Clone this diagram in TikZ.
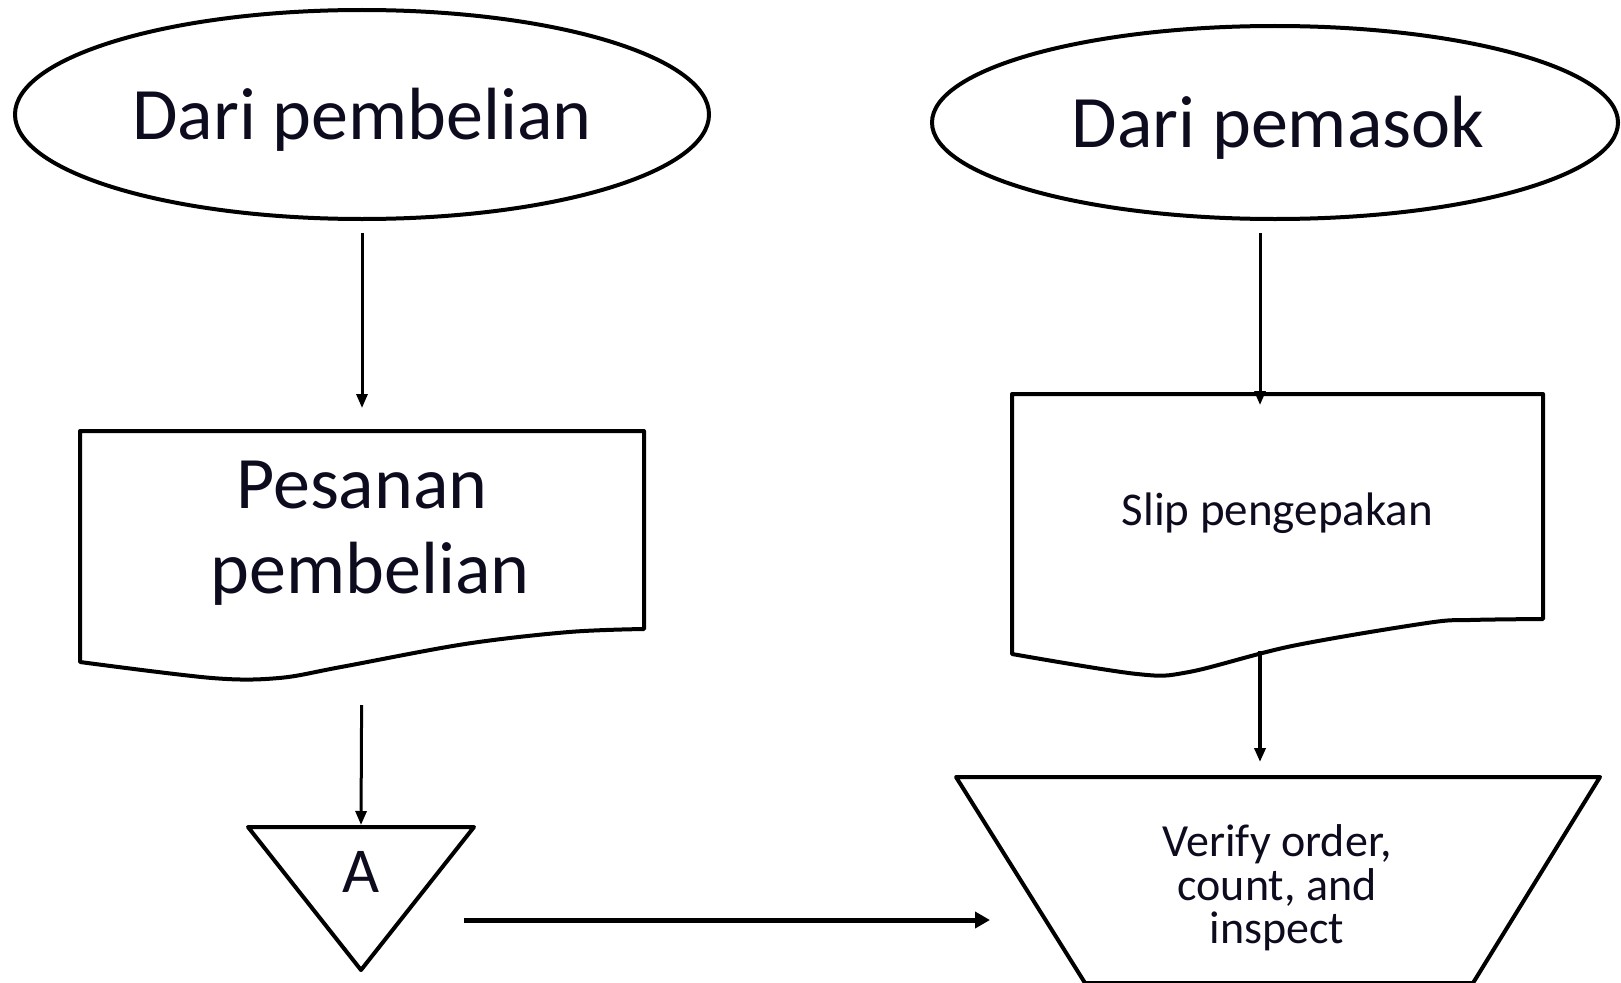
\documentclass[tikz,border=0pt]{standalone}
\usepackage{fontspec}
\setmainfont{Carlito}
\usetikzlibrary{shapes.geometric,arrows.meta,calc}
\definecolor{ink}{RGB}{12,12,30}
\begin{document}
\begin{tikzpicture}[x=1pt,y=-1pt,
  outline/.style={draw=black, line width=4pt, line join=round},
  conn/.style={draw=black, line width=3pt, -{Triangle[length=14pt,width=11pt]}},
  thickconn/.style={draw=black, line width=5pt, -{Triangle[length=15pt,width=16pt]}},
  big/.style={font=\fontsize{74}{85}\selectfont, text=ink, align=center},
  mid/.style={font=\fontsize{47}{42}\selectfont, text=ink, align=center},
  frame/.style={draw=none, inner sep=0pt, outer sep=0pt, rectangle}
]
\useasboundingbox (0,0) rectangle (1621,982);

% ellipses
\node[outline, ellipse, minimum width=694pt, minimum height=209pt, inner sep=0pt] (e1) at (362,114.5) {};
\node[big] (t1) at ([yshift=-5pt]e1.center) {Dari pembelian};
\node[outline, ellipse, minimum width=686pt, minimum height=193pt, inner sep=0pt] (e2) at (1275,122.5) {};
\node[big] (t2) at ([xshift=3pt,yshift=-5pt]e2.center) {Dari pemasok};

% documents
\node[frame, minimum width=564pt, minimum height=196pt] (doc1) at (362,529) {};
\node[big] (t3) at ([yshift=-4pt]doc1.center) {Pesanan\\\hspace*{16pt}pembelian};
\draw[outline] (doc1.north west) -- (doc1.north east) -- (644,629)
  -- plot[smooth, tension=0.55] coordinates {(644,629) (569,632) (465,644) (341,667) (279,678) (212,678) (80,662)} -- cycle;

\node[frame, minimum width=531pt, minimum height=234pt] (doc2) at (1277.5,511) {};
\node[mid] (t4) at ([yshift=-2pt]doc2.center) {Slip pengepakan};
\draw[outline] (doc2.north west) -- (doc2.north east) -- (1543,619)
  -- plot[smooth, tension=0.55] coordinates {(1543,619) (1470,620) (1427,623) (1292,646) (1189,672) (1137,674) (1012,654)} -- cycle;

% off-page connector triangle
\node[frame, minimum width=226pt, minimum height=143pt] (tri) at (361,898.5) {};
\draw[outline] (tri.north west) -- (tri.north east) -- (tri.south) -- cycle;
\node[font=\fontsize{64}{70}\selectfont, text=ink] (lblA) at (361,872) {A};

% manual operation trapezoid
\node[frame, minimum width=644pt, minimum height=206pt] (trap) at (1278,880) {};
\draw[outline] ($(trap.south west)+(129,0)$) -- (trap.north west) -- (trap.north east) -- ($(trap.south east)+(-127,0)$) -- cycle;
\node[font=\fontsize{46}{43.5}\selectfont, text=ink, align=center] (vt) at (1277,888) {Verify order,\\count, and\\inspect};

% connectors
\coordinate (colR) at (1260,0);
\coordinate (rowA) at (0,920);
\draw[conn, shorten <=12pt, shorten >=23pt] (e1.south) -- (doc1.north);
\draw[conn, shorten <=78pt, shorten >=2pt] (doc1.south) -- (tri.north);
\draw[conn, shorten <=12pt, shorten >=-11pt] (e2.south -| colR) -- (doc2.north -| colR);
\draw[conn, line width=4pt, shorten <=23pt, shorten >=15pt] (doc2.south -| colR) -- (trap.north -| colR);
\draw[thickconn, shorten <=-10pt, shorten >=-34pt] (tri.east |- rowA) -- (trap.west |- rowA);
\end{tikzpicture}
\end{document}
